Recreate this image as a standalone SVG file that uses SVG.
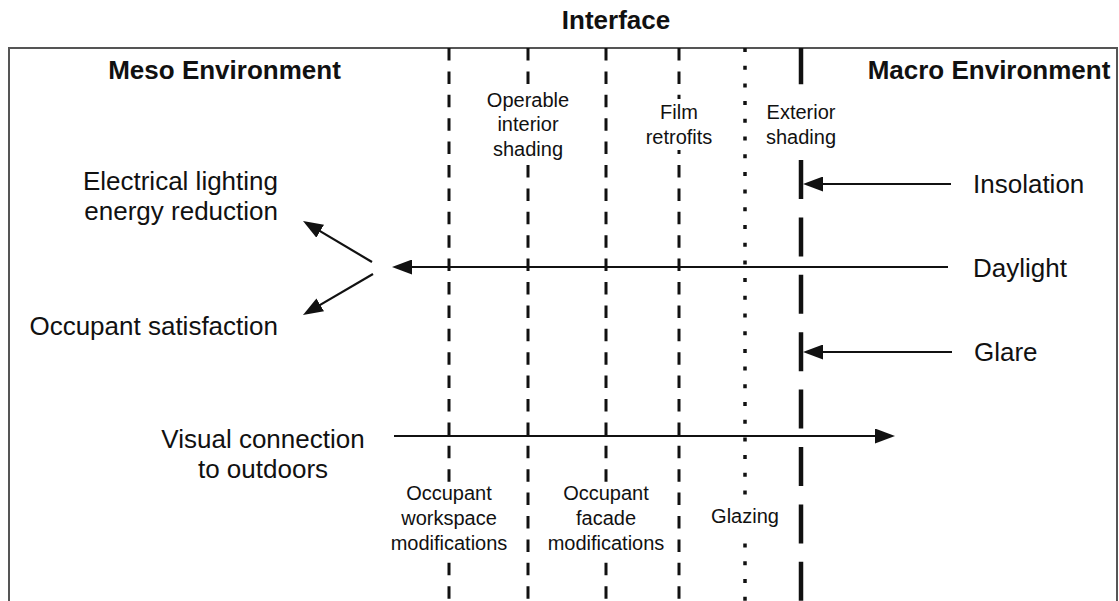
<svg xmlns="http://www.w3.org/2000/svg" width="1119" height="601" viewBox="0 0 1119 601">
<defs>
<marker id="ah" viewBox="0 0 20 15" refX="10" refY="7.5" markerWidth="20" markerHeight="15" markerUnits="userSpaceOnUse" orient="auto"><path d="M0,0 L20,7.5 L0,15 z" fill="#111"/></marker>
</defs>
<style>
text{font-family:"Liberation Sans",Arial,Helvetica,sans-serif;fill:#111}
.h{font-size:26px;font-weight:bold}
.b{font-size:26px}
.s{font-size:20px;text-anchor:middle}
.dash{stroke:#111;stroke-width:3;stroke-dasharray:12.5 10.9;fill:none}
.dot{stroke:#111;stroke-width:3.5;stroke-dasharray:4 13.7;fill:none}
.thick{stroke:#111;stroke-width:4.5;stroke-dasharray:39 18.4;stroke-dashoffset:2.8;fill:none}
.conn{stroke:#111;stroke-width:2.2;fill:none;marker-end:url(#ah)}
.bg{fill:#fff}
</style>
<rect width="1119" height="601" fill="#fff"/>
<rect id="frame" x="9" y="48" width="1108" height="600" fill="none" stroke="#555" stroke-width="2"/>
<g id="interface-layers">
<line class="dash" x1="449" y1="48" x2="449" y2="601"/>
<line class="dash" x1="528" y1="48" x2="528" y2="601"/>
<line class="dash" x1="606" y1="48" x2="606" y2="601"/>
<line class="dash" x1="679" y1="48" x2="679" y2="601"/>
<line class="dot" x1="745" y1="48" x2="745" y2="601"/>
<line class="thick" x1="801" y1="48" x2="801" y2="601"/>
</g>
<g id="title-interface"><text class="h" x="616" y="29" text-anchor="middle">Interface</text></g>
<g id="title-meso"><text class="h" x="224.5" y="79" text-anchor="middle">Meso Environment</text></g>
<g id="title-macro"><text class="h" x="989" y="79" text-anchor="middle">Macro Environment</text></g>
<g id="operable-interior-shading">
<rect class="bg" x="484" y="87" width="88" height="74"/>
<text class="s" x="528" y="107">Operable</text>
<text class="s" x="528" y="131">interior</text>
<text class="s" x="528" y="156">shading</text>
</g>
<g id="film-retrofits">
<rect class="bg" x="642" y="99" width="72" height="51"/>
<text class="s" x="679" y="119">Film</text>
<text class="s" x="679" y="144">retrofits</text>
</g>
<g id="exterior-shading">
<rect class="bg" x="764" y="99" width="74" height="52"/>
<text class="s" x="801" y="119">Exterior</text>
<text class="s" x="801" y="144">shading</text>
</g>
<g id="occupant-workspace">
<rect class="bg" x="387" y="482" width="124" height="75"/>
<text class="s" x="449" y="500">Occupant</text>
<text class="s" x="449" y="525">workspace</text>
<text class="s" x="449" y="550">modifications</text>
</g>
<g id="occupant-facade">
<rect class="bg" x="544" y="482" width="124" height="75"/>
<text class="s" x="606" y="500">Occupant</text>
<text class="s" x="606" y="525">facade</text>
<text class="s" x="606" y="550">modifications</text>
</g>
<g id="glazing">
<rect class="bg" x="709" y="500" width="72" height="36"/>
<text class="s" x="745" y="523">Glazing</text>
</g>
<g id="electrical-lighting">
<text class="b" x="278" y="190" text-anchor="end">Electrical lighting</text>
<text class="b" x="278" y="220" text-anchor="end">energy reduction</text>
</g>
<g id="occupant-satisfaction"><text class="b" x="278" y="335" text-anchor="end">Occupant satisfaction</text></g>
<g id="visual-connection">
<text class="b" x="263" y="448" text-anchor="middle">Visual connection</text>
<text class="b" x="263" y="478" text-anchor="middle">to outdoors</text>
</g>
<g id="insolation"><text class="b" x="973" y="193">Insolation</text></g>
<g id="daylight"><text class="b" x="973" y="277">Daylight</text></g>
<g id="glare"><text class="b" x="974" y="361">Glare</text></g>
<g id="connectors">
<line class="conn" x1="951" y1="184" x2="813" y2="184"/>
<line class="conn" x1="948" y1="267" x2="402" y2="267"/>
<line class="conn" x1="952" y1="352" x2="813" y2="352"/>
<line class="conn" x1="394" y1="436" x2="885" y2="436"/>
<line class="conn" x1="372" y1="262" x2="311.6" y2="226.1"/>
<line class="conn" x1="373" y1="274" x2="311.6" y2="309.9"/>
</g>
</svg>
